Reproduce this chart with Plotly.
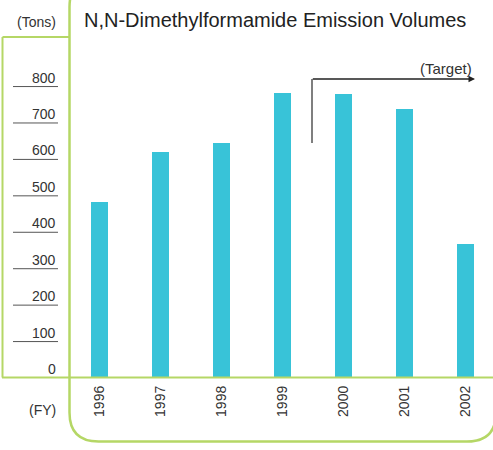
import plotly.graph_objects as go

# ---- data ----
years = ["1996", "1997", "1998", "1999", "2000", "2001", "2002"]
emissions = [482, 620, 645, 781, 779, 738, 367]
y_ticks = [0, 100, 200, 300, 400, 500, 600, 700, 800]

title_text = "N,N-Dimethylformamide Emission Volumes"
unit_text = "(Tons)"
fy_text = "(FY)"
target_text = "(Target)"

# ---- layout geometry (pixels) ----
W, H = 493, 450
L, R, T, B = 69, 0, 37, 72
PW, PH = W - L - R, H - T - B
YMAX = 936

GREEN = "#B5D766"
BAR = "#38C3D8"
TXT = "#333333"
FONT = "Liberation Sans, Arial, sans-serif"


def px(x):
    return (x - L) / PW


def py(y):
    return (H - B - y) / PH


fig = go.Figure()
fig.add_trace(go.Bar(
    x=list(range(len(years))), y=emissions, width=0.28,
    marker=dict(color=BAR, line=dict(width=0)),
    hoverinfo="x+y",
))

shapes = []
annotations = []

# green frame: small left box
shapes.append(dict(type="line", xref="paper", yref="paper",
                   x0=px(2.5), x1=px(2.5), y0=py(37), y1=py(377.5),
                   line=dict(color=GREEN, width=2)))
shapes.append(dict(type="line", xref="paper", yref="paper",
                   x0=px(2.5), x1=px(69.5), y0=py(37), y1=py(37),
                   line=dict(color=GREEN, width=2)))
# baseline
shapes.append(dict(type="line", xref="paper", yref="paper",
                   x0=px(2), x1=px(495), y0=py(377.5), y1=py(377.5),
                   line=dict(color=GREEN, width=2)))

# big rounded frame (bezier path in paper coords)
r = 29
xl, xr, yt, yb = 69.5, 496, -22, 441.5


def P(x, y):
    return f"{px(x):.5f},{py(y):.5f}"


path = (f"M {P(xl + r, yt)} Q {P(xl, yt)} {P(xl, yt + r)} "
        f"L {P(xl, yb - r)} Q {P(xl, yb)} {P(xl + r, yb)} "
        f"L {P(xr - r, yb)} Q {P(xr, yb)} {P(xr, yb - r)}")
shapes.append(dict(type="path", xref="paper", yref="paper", path=path,
                   line=dict(color=GREEN, width=2.5)))

# y tick labels + underlines
for v in y_ticks:
    annotations.append(dict(xref="paper", yref="y", x=px(58), y=v, yshift=9,
                            text=str(v), showarrow=False, xanchor="right",
                            yanchor="middle",
                            font=dict(size=14, color=TXT, family=FONT)))
    if v > 0:
        shapes.append(dict(type="line", xref="paper", yref="y",
                           x0=px(13), x1=px(58), y0=v, y1=v,
                           line=dict(color="#555555", width=1)))

# texts
annotations.append(dict(xref="paper", yref="paper", x=px(82), y=py(20),
                        text=title_text, showarrow=False, xanchor="left",
                        yanchor="middle",
                        font=dict(size=20, color="#222222", family=FONT)))
annotations.append(dict(xref="paper", yref="paper", x=px(58), y=py(22),
                        text=unit_text, showarrow=False, xanchor="right",
                        yanchor="middle",
                        font=dict(size=14, color=TXT, family=FONT)))
annotations.append(dict(xref="paper", yref="paper", x=px(58), y=py(410),
                        text=fy_text, showarrow=False, xanchor="right",
                        yanchor="middle",
                        font=dict(size=14, color=TXT, family=FONT)))
annotations.append(dict(xref="paper", yref="paper", x=px(474), y=py(68),
                        text=target_text, showarrow=False, xanchor="right",
                        yanchor="middle",
                        font=dict(size=15, color=TXT, family=FONT)))

# target bracket: vertical line + arrow
shapes.append(dict(type="line", xref="paper", yref="paper",
                   x0=px(312), x1=px(312), y0=py(79), y1=py(143),
                   line=dict(color="#555555", width=1.5)))
annotations.append(dict(xref="paper", yref="paper", axref="pixel", ayref="pixel",
                        x=px(475), y=py(79), ax=-(475 - 311.3), ay=0,
                        text="", showarrow=True, arrowhead=2, arrowsize=1,
                        arrowwidth=1.3, arrowcolor="#222222", standoff=0))

fig.update_layout(
    width=W, height=H,
    margin=dict(l=L, r=R, t=T, b=B, pad=0),
    paper_bgcolor="white", plot_bgcolor="white",
    showlegend=False,
    bargap=0,
    shapes=shapes, annotations=annotations,
    xaxis=dict(range=[-0.5, 6.45], tickmode="array",
               tickvals=list(range(len(years))), ticktext=years,
               tickangle=-90, showgrid=False, zeroline=False, showline=False,
               ticks="", ticklabelstandoff=4,
               tickfont=dict(size=14, color=TXT, family=FONT), fixedrange=True),
    yaxis=dict(range=[0, YMAX], showgrid=False, zeroline=False, showline=False,
               showticklabels=False, ticks="", fixedrange=True),
)

fig.write_html(
    "out.html",
    config={"displayModeBar": False},
    post_script="document.body.style.margin='0';document.body.style.overflow='hidden';",
)
